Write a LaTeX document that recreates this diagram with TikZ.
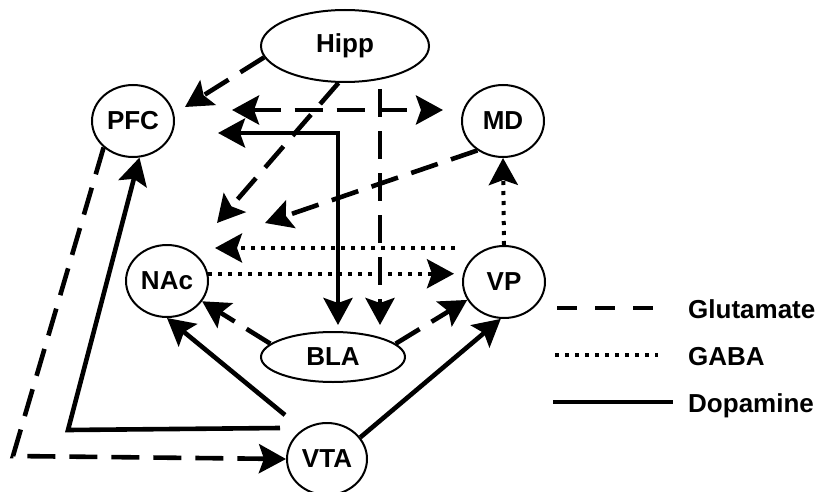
\documentclass[tikz,border=0pt]{standalone}
\usepackage{fontspec}
\setmainfont{Liberation Sans}
\usetikzlibrary{shapes.geometric, arrows.meta, calc}

\tikzset{
  head/.tip={Stealth[length=27pt, width=29pt, inset=5pt]}
}

\begin{document}
\begin{tikzpicture}[x=1pt, y=-1pt,
      every node/.style={font=\fontsize{26}{30}\selectfont\bfseries},
      reg/.style={draw, ellipse, line width=2pt, inner sep=0pt, minimum width=82pt, minimum height=72pt},
      glu/.style={-head, line width=4.6pt, dash pattern=on 28pt off 14pt},
      gaba/.style={-head, line width=4pt, dash pattern=on 4pt off 6pt},
      da/.style={-head, line width=4.6pt},
      key/.style={anchor=base west, inner sep=0pt}]
    \useasboundingbox (0,0) rectangle (821,492);
    % regions
    \node[reg, minimum width=168pt] (hipp) at (345,46) {Hipp};
    \node[reg] (pfc) at (133,121) {PFC};
    \node[reg] (md) at (503,121) {MD};
    \node[reg] (nac) at (167,281) {NAc};
    \node[reg] (vp) at (504,282) {VP};
    \node[reg, minimum width=144pt, minimum height=50pt] (bla) at (333,357) {BLA};
    \node[reg, minimum width=80pt] (vta) at (327,459) {VTA};
    % free ends and corners
    \coordinate (pfcA) at (185,107);
    \coordinate (pfcB) at (218,133);
    \coordinate (nacA) at (217,223);
    \coordinate (nacB) at (265,223);
    \coordinate (nacC) at (215,248);
    \coordinate (mdL) at (232,110);
    \coordinate (mdR) at (443,110);
    \coordinate (blaA) at (338,325);
    \coordinate (blaB) at (380,325);
    \coordinate (vpA) at (455,248);
    \coordinate (vtaA) at (285,415);
    \coordinate (vtaB) at (280,428);
    \coordinate (daC) at (68,430);
    \coordinate (gluC) at (13,456);
    % glutamate
    \draw[glu] (hipp.188) -- (pfcA);
    \draw[glu] (hipp.260) -- (nacA);
    \draw[glu, head-head] (mdL) -- (mdR);
    \draw[glu] ($(hipp.south -| blaB)+(0,6)$) -- (blaB);
    \draw[glu] (md.229) -- (nacB);
    \draw[glu] (bla.168) -- (nac.330);
    \draw[glu] (bla.12) -- (vp.206);
    \draw[glu] (pfc.222) -- (gluC) -- (vta.west);
    % GABA
    \draw[gaba] (vpA) -- (nacC);
    \draw[gaba] (nac.10) -- ($(nac.10 -| vp.west)+(-8,0)$);
    \draw[gaba] (vp.north) -- (md.south);
    % dopamine
    \draw[da, head-head] (pfcB) -| (blaA);
    \draw[da] (vtaA) -- (nac.south);
    \draw[da] (vta.33) -- (vp.265);
    \draw[da] (vtaB) -- (daC) -- (pfc.280);
    % legend
    \node[key] (kglu) at (688,318) {Glutamate};
    \node[key] (kgaba) at (688,365) {GABA};
    \node[key] (kda) at (688,412) {Dopamine};
    \draw[line width=4.6pt, dash pattern=on 20pt off 18pt] ($(kglu.base west)+(-131,-10)$) -- ++(96,0);
    \draw[line width=4pt, dash pattern=on 4pt off 6pt] ($(kgaba.base west)+(-133,-10)$) -- ++(103,0);
    \draw[line width=4.6pt] ($(kda.base west)+(-135,-10)$) -- ++(120,0);
  \end{tikzpicture}
\end{document}
